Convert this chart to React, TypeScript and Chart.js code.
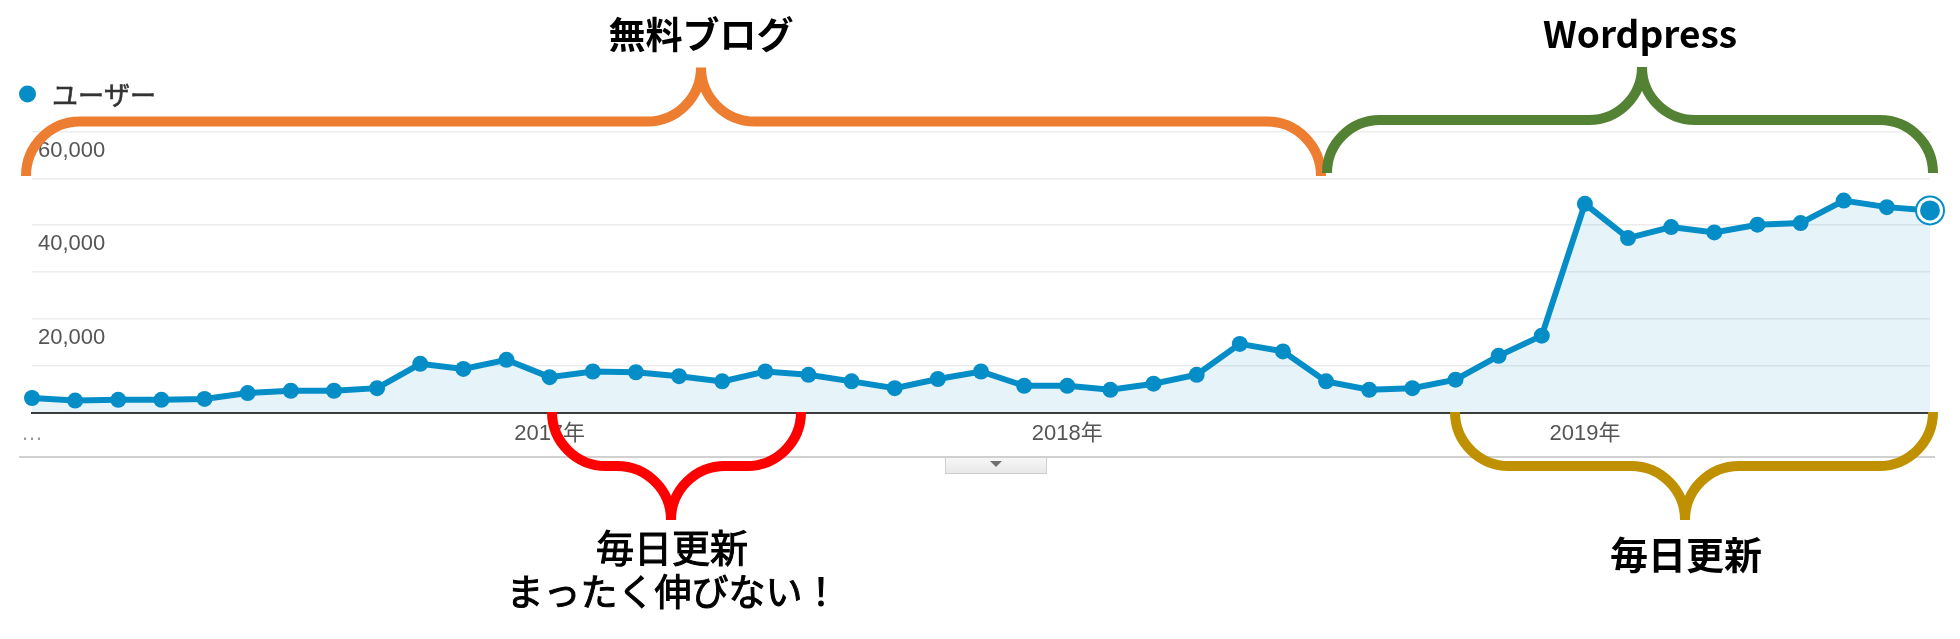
import { useEffect, useRef } from 'react';
import { Chart, registerables } from 'chart.js';

Chart.register(...registerables);

// ---- data ----
const months = [
  '2016-01', '2016-02', '2016-03', '2016-04', '2016-05', '2016-06', '2016-07', '2016-08', '2016-09', '2016-10', '2016-11', '2016-12',
  '2017-01', '2017-02', '2017-03', '2017-04', '2017-05', '2017-06', '2017-07', '2017-08', '2017-09', '2017-10', '2017-11', '2017-12',
  '2018-01', '2018-02', '2018-03', '2018-04', '2018-05', '2018-06', '2018-07', '2018-08', '2018-09', '2018-10', '2018-11', '2018-12',
  '2019-01', '2019-02', '2019-03', '2019-04', '2019-05', '2019-06', '2019-07', '2019-08', '2019-09',
];

const users = [
  3100, 2550, 2700, 2700, 2900, 4150, 4650, 4650, 5200, 10400, 9300, 11250,
  7550, 8750, 8600, 7750, 6650, 8750, 8050, 6650, 5200, 7150, 8750, 5700,
  5700, 4850, 6150, 8050, 14650, 13050, 6650, 4850, 5200, 7000, 12100, 16400,
  44550, 37250, 39600, 38450, 40100, 40450, 45250, 43850, 43150,
];

const seriesLabel = 'ユーザー';

const xTickLabels: Record<string, string> = {
  '2016-01': '…',
  '2017-01': '2017年',
  '2018-01': '2018年',
  '2019-01': '2019年',
};

const yTickLabels: Record<number, string> = {
  20000: '20,000',
  40000: '40,000',
  60000: '60,000',
};

// ---- annotations (decoration, not data) ----
type Brace = { color: string; x1: number; x2: number; xp: number; yEnd: number; yBar: number; r: number };
const braces: Brace[] = [
  { color: '#ED7D31', x1: 26, x2: 1321, xp: 701, yEnd: 176, yBar: 121.5, r: 54 },
  { color: '#548235', x1: 1327, x2: 1933, xp: 1642, yEnd: 173, yBar: 120, r: 53 },
  { color: '#FF0000', x1: 552, x2: 801, xp: 671, yEnd: 412, yBar: 466, r: 54 },
  { color: '#BF9000', x1: 1455, x2: 1933, xp: 1685, yEnd: 412, yBar: 466, r: 54 },
];

type Note = { text: string; x: number; y: number; size: number; weight: string; thicken: number };
const notes: Note[] = [
  { text: '無料ブログ', x: 701, y: 49, size: 37, weight: 'bold', thicken: 0 },
  { text: 'Wordpress', x: 1640, y: 48, size: 37, weight: 'bold', thicken: 0 },
  { text: '毎日更新', x: 672, y: 562, size: 38, weight: 'normal', thicken: 1.1 },
  { text: 'まったく伸びない！', x: 673, y: 606, size: 37, weight: 'normal', thicken: 1.0 },
  { text: '毎日更新', x: 1686, y: 569, size: 38, weight: 'bold', thicken: 0 },
];

const BLUE = '#058DC7';
const AXIS_FONT = "'Liberation Sans', Arial, 'Noto Sans CJK JP', sans-serif";
const JP_FONT = "'Noto Sans CJK JP', 'Noto Sans', sans-serif";
const X_AXIS_HEIGHT = 40;
const PLOT_TOP = 131.5;
const PLOT_BOTTOM = 412.5;

function drawBrace(ctx: CanvasRenderingContext2D, b: Brace) {
  const K = 0.5523;
  const { x1, x2, xp, yEnd, yBar, r } = b;
  const s = yBar > yEnd ? 1 : -1;
  const yPeak = yBar + s * r;
  const dy = yPeak - yBar;
  ctx.save();
  ctx.strokeStyle = b.color;
  ctx.lineWidth = 10;
  ctx.lineCap = 'butt';
  ctx.lineJoin = 'round';
  ctx.beginPath();
  ctx.moveTo(x1, yEnd);
  ctx.bezierCurveTo(x1, yEnd + (yBar - yEnd) * K, x1 + r * (1 - K), yBar, x1 + r, yBar);
  ctx.lineTo(xp - r, yBar);
  ctx.bezierCurveTo(xp - r + r * K, yBar, xp, yPeak - dy * K, xp, yPeak);
  ctx.moveTo(xp, yPeak);
  ctx.bezierCurveTo(xp, yPeak - dy * K, xp + r - r * K, yBar, xp + r, yBar);
  ctx.lineTo(x2 - r, yBar);
  ctx.bezierCurveTo(x2 - r + r * K, yBar, x2, yBar + (yEnd - yBar) * (1 - K), x2, yEnd);
  ctx.stroke();
  ctx.restore();
}

const decorations = {
  id: 'decorations',
  afterDatasetsDraw(chart: any) {
    const ctx: CanvasRenderingContext2D = chart.ctx;
    const meta = chart.getDatasetMeta(0);
    const pt = meta.data[meta.data.length - 1];
    if (!pt) return;
    ctx.save();
    ctx.fillStyle = BLUE;
    ctx.beginPath();
    ctx.arc(pt.x, pt.y, 15, 0, Math.PI * 2);
    ctx.fill();
    ctx.fillStyle = '#ffffff';
    ctx.beginPath();
    ctx.arc(pt.x, pt.y, 13, 0, Math.PI * 2);
    ctx.fill();
    ctx.fillStyle = BLUE;
    ctx.beginPath();
    ctx.arc(pt.x, pt.y, 10, 0, Math.PI * 2);
    ctx.fill();
    ctx.restore();
  },
  afterDraw(chart: any) {
    const ctx: CanvasRenderingContext2D = chart.ctx;
    ctx.save();
    // legend
    const ds = chart.data.datasets[0];
    ctx.fillStyle = ds.borderColor;
    ctx.beginPath();
    ctx.arc(27.5, 94, 8.5, 0, Math.PI * 2);
    ctx.fill();
    ctx.fillStyle = '#333333';
    ctx.font = `26px ${JP_FONT}`;
    ctx.textAlign = 'left';
    ctx.textBaseline = 'alphabetic';
    ctx.fillText(ds.label, 52, 105);
    ctx.strokeStyle = '#333333';
    ctx.lineWidth = 0.6;
    ctx.strokeText(ds.label, 52, 105);

    // bottom border of the GA panel and the tab
    ctx.strokeStyle = '#d0d0d0';
    ctx.lineWidth = 2;
    ctx.beginPath();
    ctx.moveTo(19, 457);
    ctx.lineTo(1935, 457);
    ctx.stroke();
    const g = ctx.createLinearGradient(0, 457, 0, 474);
    g.addColorStop(0, '#f8f8f8');
    g.addColorStop(1, '#e6e6e6');
    ctx.fillStyle = g;
    ctx.fillRect(945, 457, 102, 17);
    ctx.strokeStyle = '#cfcfcf';
    ctx.lineWidth = 1;
    ctx.strokeRect(945.5, 457.5, 101, 16);
    ctx.fillStyle = '#707070';
    ctx.beginPath();
    ctx.moveTo(990, 461);
    ctx.lineTo(1002, 461);
    ctx.lineTo(996, 467);
    ctx.closePath();
    ctx.fill();

    // braces
    braces.forEach((b) => drawBrace(ctx, b));

    // notes
    ctx.fillStyle = '#000000';
    ctx.strokeStyle = '#000000';
    ctx.textAlign = 'center';
    ctx.textBaseline = 'alphabetic';
    notes.forEach((n) => {
      ctx.font = `${n.weight} ${n.size}px ${JP_FONT}`;
      ctx.fillText(n.text, n.x, n.y);
      if (n.thicken > 0) {
        ctx.lineWidth = n.thicken;
        ctx.strokeText(n.text, n.x, n.y);
      }
    });
    ctx.restore();
  },
};

export default function App() {
  const ref = useRef<HTMLCanvasElement>(null);
  useEffect(() => {
    const canvas = ref.current;
    if (!canvas) return;
    const chart = new Chart(canvas, {
      type: 'line',
      data: {
        labels: months,
        datasets: [
          {
            label: seriesLabel,
            data: users,
            borderColor: BLUE,
            backgroundColor: 'rgba(5,141,199,0.10)',
            fill: 'origin',
            borderWidth: 6,
            pointRadius: 8,
            pointHoverRadius: 8,
            pointBackgroundColor: BLUE,
            pointBorderWidth: 0,
            tension: 0,
            clip: false,
          } as any,
        ],
      },
      options: {
        responsive: false,
        animation: false,
        devicePixelRatio: 1,
        events: [],
        layout: {
          padding: { left: 32, right: 30, top: PLOT_TOP, bottom: 639 - PLOT_BOTTOM - X_AXIS_HEIGHT },
        },
        plugins: {
          legend: { display: false },
          tooltip: { enabled: false },
        },
        scales: {
          x: {
            type: 'category',
            grid: { display: false, drawTicks: false },
            border: { display: true, color: '#3c3c3c', width: 2 },
            ticks: {
              autoSkip: false,
              maxRotation: 0,
              minRotation: 0,
              padding: 8,
              font: { family: AXIS_FONT, size: 22 },
              color: (c: any) => (c.index === 0 ? '#9a9a9a' : '#555555'),
              callback: (_v: any, i: number) => xTickLabels[months[i]] ?? '',
            },
            afterFit: (s: any) => {
              s.height = X_AXIS_HEIGHT;
            },
          },
          y: {
            min: 0,
            max: 60000,
            grid: { color: '#ececec', lineWidth: 1.5, drawTicks: false },
            border: { display: false },
            ticks: {
              stepSize: 10000,
              mirror: true,
              padding: 6,
              labelOffset: 19,
              font: { family: AXIS_FONT, size: 22 },
              color: '#555555',
              callback: (v: any) => yTickLabels[Number(v)] ?? '',
            },
            afterFit: (s: any) => {
              s.width = 0;
            },
          },
        },
      } as any,
      plugins: [decorations],
    });
    return () => chart.destroy();
  }, []);
  return (
    <div style={{ position: 'fixed', left: 0, top: 0, width: 1960, height: 639, background: '#ffffff' }}>
      <canvas ref={ref} width={1960} height={639} style={{ display: 'block', width: 1960, height: 639 }} />
    </div>
  );
}
